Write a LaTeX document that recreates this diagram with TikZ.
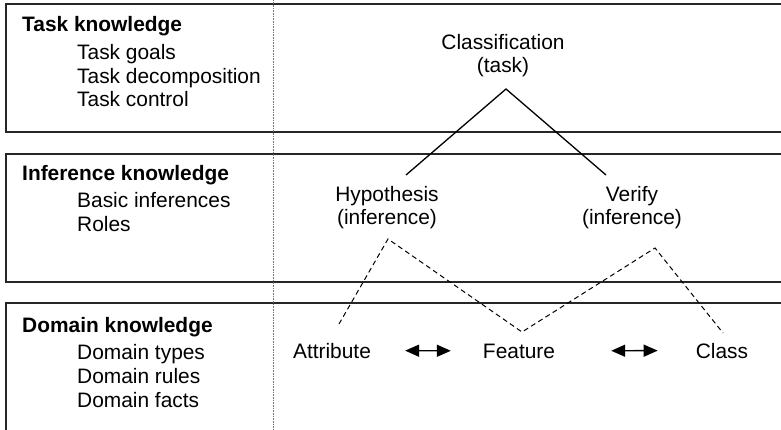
\documentclass[tikz,border=0pt]{standalone}
\usepackage{fontspec}
\setmainfont{Liberation Sans}
\usetikzlibrary{arrows.meta}
\begin{document}
\begin{tikzpicture}[x=1pt,y=-1pt,
  every node/.style={font=\fontsize{20.9}{23}\selectfont, inner sep=0pt},
  head/.style={anchor=base west, font=\fontsize{20.9}{23}\selectfont\bfseries},
  item/.style={anchor=base west},
  lbl/.style={anchor=base, align=center},
  frame/.style={line width=1.4pt, draw=black!85},
  divider/.style={line width=0.8pt, draw=black!55, dash pattern=on 0.8pt off 0.8pt},
  link/.style={line width=1.3pt},
  dlink/.style={line width=1pt, dash pattern=on 5pt off 3.5pt},
  bi/.style={line width=1.4pt, {Triangle[length=14pt,width=12pt]}-{Triangle[length=14pt,width=12pt]}}
]
\useasboundingbox (0,0) rectangle (781,430);

% the three layer bands, open to the right
\draw[frame] (781,4) -- (6,4) -- (6,132) -- (781,132);
\draw[frame] (781,154) -- (6,154) -- (6,282) -- (781,282);
\draw[frame] (781,303) -- (6,303) -- (6,430);

% dotted divider between the legend column and the example
\draw[divider] (273,0) -- (273,430);

% legend column
\node[head] (tk) at (22,32) {Task knowledge};
\node[item] (tk1) at (77,60) {Task goals};
\node[item] (tk2) at (77,83.5) {Task decomposition};
\node[item] (tk3) at (77,107) {Task control};

\node[head] (ik) at (22,181) {Inference knowledge};
\node[item] (ik1) at (77,208) {Basic inferences};
\node[item] (ik2) at (77,232) {Roles};

\node[head] (dk) at (22,332) {Domain knowledge};
\node[item] (dk1) at (77,359) {Domain types};
\node[item] (dk2) at (77,383) {Domain rules};
\node[item] (dk3) at (77,407) {Domain facts};

% example: task, inferences and domain elements (base = last line)
\node[lbl] (cls) at (503,73) {Classification\\(task)};
\node[lbl] (hyp) at (387,225) {Hypothesis\\(inference)};
\node[lbl] (ver) at (632,225) {Verify\\(inference)};

\node[anchor=base] (attr) at (332,358) {Attribute};
\node[anchor=base] (feat) at (519,358) {Feature};
\node[anchor=base] (cla) at (722,358) {Class};

% task decomposition
\coordinate (apex) at (506,89);
\coordinate (hypTop) at (406,175);
\coordinate (verTop) at (606,175);
\draw[link] (hypTop) -- (apex) -- (verTop);

% inference-to-domain mapping
\coordinate (dA) at (339,324);
\coordinate (dH) at (388,239);
\coordinate (dF) at (522,332);
\coordinate (dV) at (655,248);
\coordinate (dC) at (723,333);
\draw[dlink] (dA) -- (dH) -- (dF) -- (dV) -- (dC);

% relations between domain elements
\draw[bi, shorten <=34pt, shorten >=32pt] (attr.east) -- (feat.west);
\draw[bi, shorten <=56pt, shorten >=38pt] (feat.east) -- (cla.west);
\end{tikzpicture}
\end{document}
